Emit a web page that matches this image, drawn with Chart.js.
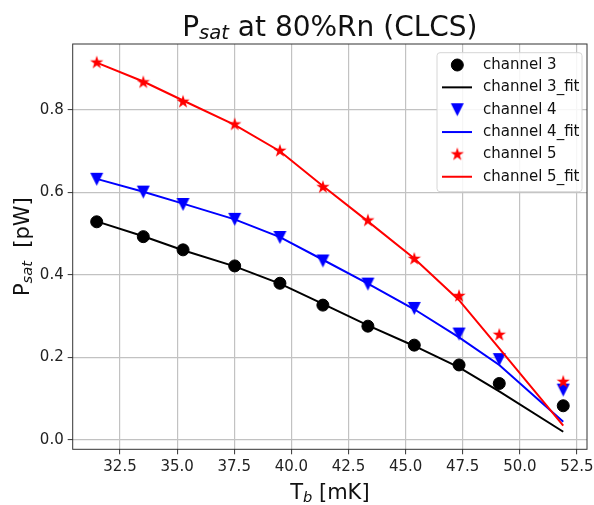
<!DOCTYPE html>
<html>
<head>
<meta charset="utf-8">
<script src="https://cdn.jsdelivr.net/npm/chart.js@4.4.1/dist/chart.umd.min.js"></script>
<style>
  html, body { margin: 0; padding: 0; background: #fff; }
</style>
</head>
<body>
<canvas id="graficoPsat" width="594" height="505"></canvas>
<script>
// valores
const temperaturas = [31.48, 33.52, 35.26, 37.52, 39.50, 41.38, 43.35, 45.38, 47.34, 49.10, 51.90];
const canal3 = [0.529, 0.493, 0.461, 0.422, 0.380, 0.327, 0.276, 0.230, 0.182, 0.137, 0.083];
const canal3Fit = [0.530, 0.494, 0.460, 0.421, 0.379, 0.330, 0.278, 0.228, 0.176, 0.118, 0.020];
const canal4 = [0.632, 0.601, 0.571, 0.535, 0.491, 0.434, 0.378, 0.319, 0.257, 0.195, 0.121];
const canal4Fit = [0.633, 0.602, 0.573, 0.535, 0.492, 0.437, 0.379, 0.317, 0.249, 0.182, 0.044];
const canal5 = [0.915, 0.867, 0.820, 0.765, 0.701, 0.613, 0.532, 0.439, 0.349, 0.255, 0.141];
const canal5Fit = [0.915, 0.869, 0.823, 0.764, 0.700, 0.616, 0.530, 0.440, 0.339, 0.222, 0.035];
const ticksX = [32.5, 35.0, 37.5, 40.0, 42.5, 45.0, 47.5, 50.0, 52.5];
const ticksY = [0.0, 0.2, 0.4, 0.6, 0.8];

const fonte = 'DejaVu Sans';
Chart.defaults.font.family = fonte;

function pontos (valores) {
  return temperaturas.map((t, i) => ({ x: t, y: valores[i] }));
}

// marcadores no estilo do matplotlib
function estrela (cor, raio) {
  const c = document.createElement('canvas');
  const s = Math.ceil(raio * 2) + 2;
  c.width = s; c.height = s;
  const ctx = c.getContext('2d');
  ctx.translate(s / 2, s / 2);
  ctx.beginPath();
  for (let i = 0; i < 10; i++) {
    const r = i % 2 === 0 ? raio : raio * 0.382;
    const a = -Math.PI / 2 + i * Math.PI / 5;
    ctx.lineTo(r * Math.cos(a), r * Math.sin(a));
  }
  ctx.closePath();
  ctx.fillStyle = cor;
  ctx.fill();
  return c;
}

function trianguloBaixo (cor, meio) {
  const c = document.createElement('canvas');
  const s = Math.ceil(meio * 2) + 2;
  c.width = s; c.height = s;
  const ctx = c.getContext('2d');
  const m = s / 2;
  ctx.beginPath();
  ctx.moveTo(m - meio, m - meio);
  ctx.lineTo(m + meio, m - meio);
  ctx.lineTo(m, m + meio);
  ctx.closePath();
  ctx.fillStyle = cor;
  ctx.fill();
  return c;
}

const marcaEstrela = estrela('#ff0000', 7);
const marcaTriangulo = trianguloBaixo('#0000ff', 6.5);

function serieDados (label, valores, cor, estilo, raio, ordem) {
  return {
    label: label,
    data: pontos(valores),
    showLine: false,
    pointStyle: estilo,
    pointRadius: raio,
    pointBackgroundColor: cor,
    pointBorderColor: cor,
    pointBorderWidth: 1,
    order: ordem
  };
}

function serieFit (label, valores, cor, ordem) {
  return {
    label: label,
    data: pontos(valores),
    showLine: true,
    borderColor: cor,
    borderWidth: 2,
    pointRadius: 0,
    tension: 0,
    order: ordem
  };
}

// escreve texto com subscrito (P_sat, T_b)
function textoSub (ctx, partes, x, y) {
  let largura = 0;
  partes.forEach(p => {
    ctx.font = (p.italico ? 'italic ' : '') + p.tam + 'px "' + fonte + '"';
    p.w = ctx.measureText(p.t).width;
    largura += p.w;
  });
  let cx = x - largura / 2;
  ctx.textAlign = 'left';
  ctx.textBaseline = 'alphabetic';
  partes.forEach(p => {
    ctx.font = (p.italico ? 'italic ' : '') + p.tam + 'px "' + fonte + '"';
    ctx.fillText(p.t, cx, y + (p.dy || 0));
    cx += p.w;
  });
}

const moldura = {
  id: 'moldura',
  afterDraw (chart) {
    const ctx = chart.ctx;
    const a = chart.chartArea;
    ctx.save();

    // contorno do eixo
    ctx.strokeStyle = '#333';
    ctx.lineWidth = 1;
    ctx.strokeRect(a.left, a.top, a.right - a.left, a.bottom - a.top);

    // legenda
    const lx = 437, ly = 52.7, lw = 145, lh = 139;
    ctx.beginPath();
    ctx.roundRect(lx, ly, lw, lh, 3);
    ctx.fillStyle = 'rgba(255,255,255,0.85)';
    ctx.fill();
    ctx.strokeStyle = '#d6d6d6';
    ctx.stroke();

    chart.data.datasets.forEach((ds, i) => {
      const y = 65 + i * 22.35;
      if (ds.showLine) {
        ctx.strokeStyle = ds.borderColor;
        ctx.lineWidth = ds.borderWidth;
        ctx.beginPath();
        ctx.moveTo(442, y);
        ctx.lineTo(472, y);
        ctx.stroke();
      } else {
        ctx.fillStyle = ds.pointBackgroundColor;
        ctx.strokeStyle = ds.pointBorderColor;
        ctx.lineWidth = ds.pointBorderWidth;
        Chart.helpers.drawPoint(ctx, {
          pointStyle: ds.pointStyle, rotation: 0, radius: ds.pointRadius, borderWidth: ds.pointBorderWidth
        }, 457.3, y);
      }
      ctx.fillStyle = '#111';
      ctx.font = '15px "' + fonte + '"';
      ctx.textAlign = 'left';
      ctx.textBaseline = 'middle';
      ctx.fillText(ds.label, 483, y);
    });

    // titulos
    ctx.fillStyle = '#111';
    const meio = (a.left + a.right) / 2;
    textoSub(ctx, [
      { t: 'P', tam: 28 },
      { t: 'sat', tam: 19.6, italico: true, dy: 3.6 },
      { t: ' at 80%Rn (CLCS)', tam: 28 }
    ], meio, 35.6);

    textoSub(ctx, [
      { t: 'T', tam: 21 },
      { t: 'b', tam: 14.7, italico: true, dy: 2.7 },
      { t: ' [mK]', tam: 21 }
    ], meio, 499);

    ctx.save();
    ctx.translate(29, (a.top + a.bottom) / 2);
    ctx.rotate(-Math.PI / 2);
    textoSub(ctx, [
      { t: 'P', tam: 21 },
      { t: 'sat', tam: 14.7, italico: true, dy: 2.7 },
      { t: '  [pW]', tam: 21 }
    ], 0, 0);
    ctx.restore();

    ctx.restore();
  }
};

const grafico = new Chart(document.getElementById('graficoPsat'), {
  type: 'scatter',
  data: {
    datasets: [
      serieDados('channel 3', canal3, '#000000', 'circle', 6, 6),
      serieFit('channel 3_fit', canal3Fit, '#000000', 5),
      serieDados('channel 4', canal4, '#0000ff', marcaTriangulo, 6, 4),
      serieFit('channel 4_fit', canal4Fit, '#0000ff', 3),
      serieDados('channel 5', canal5, '#ff0000', marcaEstrela, 6, 2),
      serieFit('channel 5_fit', canal5Fit, '#ff0000', 1)
    ]
  },
  options: {
    responsive: false,
    animation: false,
    devicePixelRatio: 1,
    layout: { padding: { top: 44, right: 6, bottom: 0, left: 0 } },
    plugins: {
      legend: { display: false },
      title: { display: false },
      tooltip: { enabled: false }
    },
    scales: {
      x: {
        type: 'linear',
        min: 30.43,
        max: 52.94,
        afterBuildTicks: s => { s.ticks = ticksX.map(v => ({ value: v })); },
        afterFit: s => { s.height = 55.7; s.paddingLeft = 0; s.paddingRight = 0; },
        ticks: {
          callback: v => v.toFixed(1),
          font: { size: 15 },
          color: '#222',
          padding: 4,
          maxRotation: 0,
          autoSkip: false
        },
        grid: { color: '#c2c2c2', lineWidth: 1.2, tickColor: '#333', tickLength: 5, tickWidth: 1 },
        border: { display: false }
      },
      y: {
        type: 'linear',
        min: -0.0225,
        max: 0.96,
        afterBuildTicks: s => { s.ticks = ticksY.map(v => ({ value: v })); },
        afterFit: s => { s.width = 72.7; s.paddingTop = 0; s.paddingBottom = 0; },
        ticks: {
          callback: v => v.toFixed(1),
          font: { size: 15 },
          color: '#222',
          padding: 4,
          autoSkip: false
        },
        grid: { color: '#c2c2c2', lineWidth: 1.2, tickColor: '#333', tickLength: 5, tickWidth: 1 },
        border: { display: false }
      }
    }
  },
  plugins: [moldura]
});
</script>
</body>
</html>
